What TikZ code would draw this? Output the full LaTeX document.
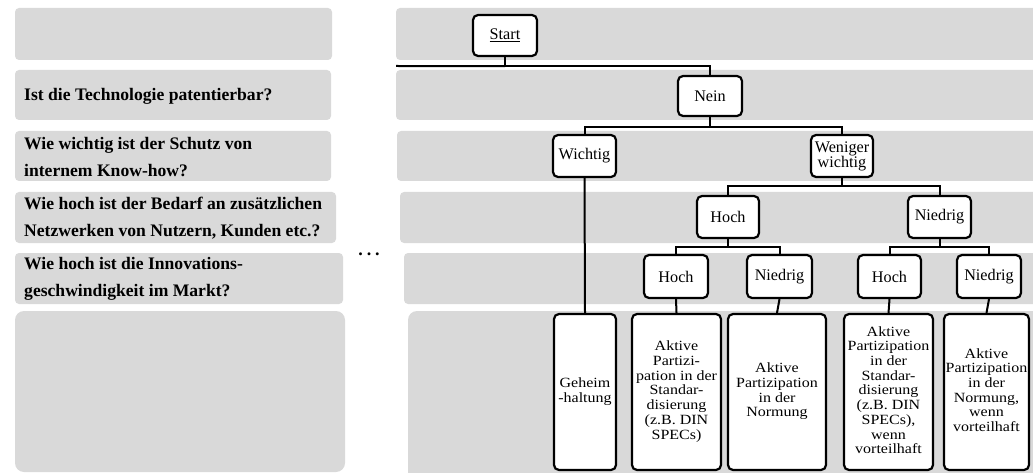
\documentclass[tikz,border=0pt]{standalone}
\usepackage{graphicx}
\usepackage{fontspec}
\setmainfont{Liberation Serif}
\definecolor{bandgray}{RGB}{217,217,217}
% outcome text: narrow line pitch, slightly compressed vertically
\newcommand{\outcometext}[1]{\scalebox{1}[0.88]{\begin{tabular}{@{}c@{}}#1\end{tabular}}}
\begin{document}
\begin{tikzpicture}[x=1pt,y=-1pt,
  band/.style={fill=bandgray, draw=none, rounded corners=4pt},
  question/.style={anchor=west, align=left, inner sep=0pt,
    font=\fontsize{17.6}{27}\selectfont\bfseries},
  box/.style={draw=black, line width=2.2pt, fill=white, rounded corners=5pt,
    inner sep=0pt, align=center, font=\fontsize{16.2}{15}\selectfont},
  leaf/.style={box, minimum height=156pt, font=\fontsize{16}{16.7}\selectfont},
  link/.style={draw=black, line width=2pt}
]
\useasboundingbox (0,0) rectangle (1033,473);

% question column
\path[band] (15,8) rectangle (332,60);
\path[band] (15,70) rectangle (331,120);
\path[band] (15,131) rectangle (331,181);
\path[band] (15,192) rectangle (336,243);
\path[band] (15,253) rectangle (343,304);
\path[band, rounded corners=9pt] (15,311) rectangle (345,472);

% decision column
\path[band] (396,8) rectangle (1045,60);
\path[band] (396,70) rectangle (1045,120);
\path[band] (397,131) rectangle (1045,181);
\path[band] (400,192) rectangle (1045,243);
\path[band] (404,253) rectangle (1045,304);
\path[band, rounded corners=9pt] (408,311) rectangle (1045,485);

\node[question] (q1) at (24,96) {Ist die Technologie patentierbar?};
\node[question] (q2) at (24,157) {Wie wichtig ist der Schutz von\\internem Know-how?};
\node[question] (q3) at (24,218) {Wie hoch ist der Bedarf an zusätzlichen\\Netzwerken von Nutzern, Kunden etc.?};
\node[question] (q4) at (24,279) {Wie hoch ist die Innovations-\\geschwindigkeit im Markt?};

\node[anchor=base, inner sep=0pt, font=\fontsize{18}{18}\selectfont\bfseries] (dots) at (369,255) {.\kern3.8pt.\kern3.8pt.};

% tree nodes
\node[box, minimum width=64pt, minimum height=41pt] (start) at (505,35.5) {\underline{Start}};
\node[box, minimum width=64pt, minimum height=40pt] (nein) at (710,96) {Nein};
\node[box, minimum width=63pt, minimum height=42pt] (wichtig) at (584.5,156) {Wichtig};
\node[box, minimum width=62pt, minimum height=42pt] (weniger) at (842,156) {Weniger\\wichtig};
\node[box, minimum width=62pt, minimum height=42pt] (hoch1) at (728,217) {Hoch};
\node[box, minimum width=63pt, minimum height=42pt] (niedrig1) at (939.5,217) {Niedrig};
\node[box, minimum width=64pt, minimum height=43pt] (hochA) at (676,276.5) {Hoch};
\node[box, minimum width=65pt, minimum height=43pt] (niedrigA) at (779.5,276.5) {Niedrig};
\node[box, minimum width=63pt, minimum height=43pt] (hochB) at (889.5,276.5) {Hoch};
\node[box, minimum width=64pt, minimum height=43pt] (niedrigB) at (989,276.5) {Niedrig};

% outcomes
\node[leaf, minimum width=62pt] (leafA) at (585,392) {\outcometext{Geheim\\-haltung}};
\node[leaf, minimum width=89pt] (leafB) at (676.5,392) {\outcometext{Aktive\\Partizi-\\pation in der\\Standar-\\disierung\\(z.B. DIN\\SPECs)}};
\node[leaf, minimum width=98pt] (leafC) at (777,392) {\outcometext{Aktive\\Partizipation\\in der\\Normung}};
\node[leaf, minimum width=89pt] (leafD) at (888.5,392) {\outcometext{Aktive\\Partizipation\\in der\\Standar-\\disierung\\(z.B. DIN\\SPECs),\\wenn\\vorteilhaft}};
\node[leaf, minimum width=85pt] (leafE) at (986.5,392) {\outcometext{Aktive\\Partizipation\\in der\\Normung,\\wenn\\vorteilhaft}};

% connectors
\coordinate (lineend) at (396,66);
\draw[link] (start.south) -- ++(0,9) coordinate (sj) -| (nein.north);
\draw[link] (sj) -- (lineend);
\draw[link] (nein.south) -- ++(0,10) -| (wichtig.north);
\draw[link] (nein.south) -- ++(0,10) -| (weniger.north);
\draw[link] (weniger.south) -- ++(0,8) -| (hoch1.north);
\draw[link] (weniger.south) -- ++(0,8) -| (niedrig1.north);
\draw[link] (hoch1.south) -- ++(0,8) -| (hochA.north);
\draw[link] (hoch1.south) -- ++(0,8) -| (niedrigA.north);
\draw[link] (niedrig1.south) -- ++(0,8) -| (hochB.north);
\draw[link] (niedrig1.south) -- ++(0,8) -| (niedrigB.north);
\draw[link] (wichtig.south) -- (leafA.north);
\draw[link] (hochA.south) -- (leafB.north);
\draw[link] (niedrigA.south) -- (leafC.north);
\draw[link] (hochB.south) -- (leafD.north);
\draw[link] (niedrigB.south) -- (leafE.north);
\end{tikzpicture}
\end{document}
